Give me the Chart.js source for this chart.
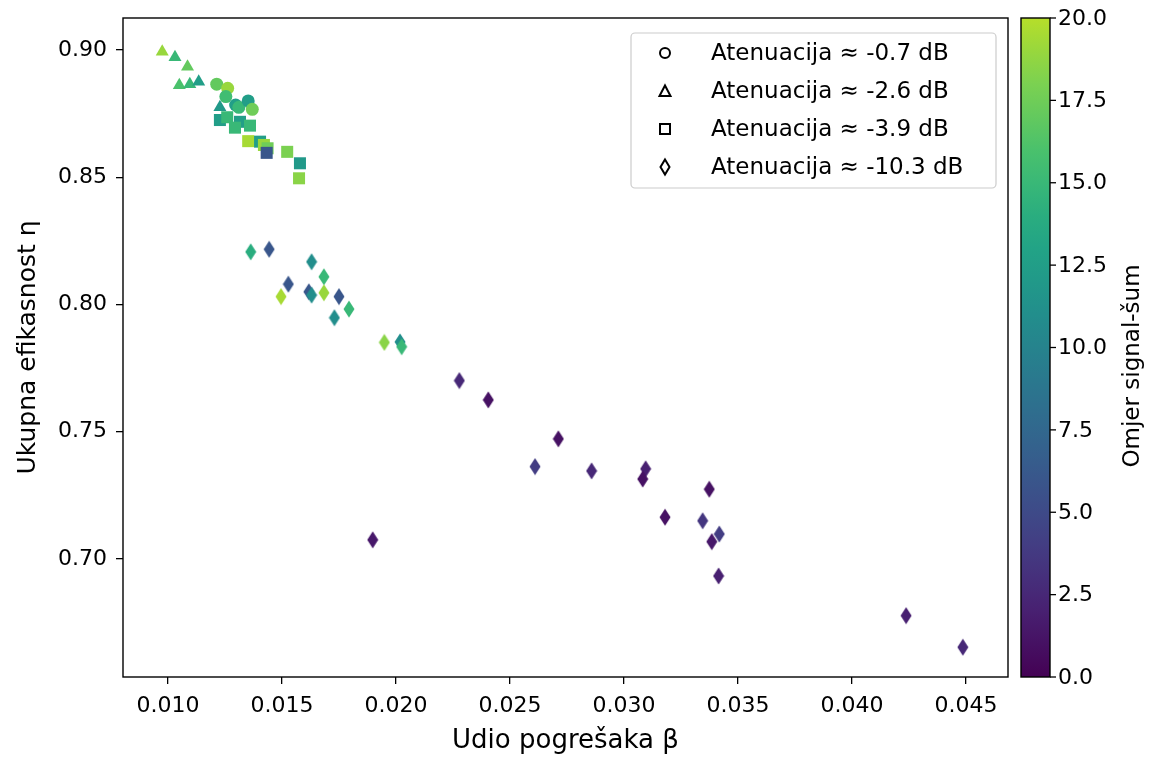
<!DOCTYPE html>
<html lang="hr">
<head>
<meta charset="UTF-8" />
<title>Ukupna efikasnost</title>
<script src="https://cdn.jsdelivr.net/npm/chart.js@4.4.0/dist/chart.umd.min.js"></script>
<style>
  html, body { margin: 0; padding: 0; background: #fff; }
</style>
</head>
<body>
<canvas id="chart" width="1153" height="757"></canvas>
<script>
// legend text
var attenuations = ['-0.7', '-2.6', '-3.9', '-10.3'];

// -0.7 dB (circles)
var circleX = [0.01214, 0.01262, 0.01254, 0.01297, 0.01311, 0.01352, 0.01370];
var circleY = [0.8866, 0.8850, 0.8817, 0.8784, 0.8775, 0.8800, 0.8767];
var circleSnr = [17, 19, 15.5, 12.5, 15, 12.5, 17.5];

// -2.6 dB (triangles)
var triX = [0.00975, 0.01031, 0.01086, 0.01050, 0.01096, 0.01135, 0.01228];
var triY = [0.8993, 0.8972, 0.8934, 0.8862, 0.8866, 0.8875, 0.8775];
var triSnr = [19, 15, 17, 16, 15, 12.5, 12];

// -3.9 dB (squares)
var sqX = [0.01228, 0.01260, 0.01316, 0.01294, 0.01360, 0.01352, 0.01404, 0.01421, 0.01437, 0.01433, 0.01523, 0.01579, 0.01575];
var sqY = [0.8725, 0.8736, 0.8718, 0.8695, 0.8703, 0.8642, 0.8640, 0.8627, 0.8614, 0.8596, 0.8600, 0.8555, 0.8496];
var sqSnr = [12.5, 15, 12.5, 15, 15, 19.5, 12.5, 19, 17.5, 6, 18, 12, 18.5];

// -10.3 dB (diamonds)
var diaX = [0.01363, 0.01444, 0.01630, 0.01684, 0.01528, 0.01496, 0.01618, 0.01630, 0.01684, 0.01750,
            0.01794, 0.01730, 0.01949, 0.02018, 0.02025, 0.02278, 0.02405, 0.02712, 0.02610, 0.02858,
            0.03095, 0.03082, 0.03374, 0.03180, 0.03345, 0.03418, 0.03385, 0.03415, 0.01898, 0.04237, 0.04486];
var diaY = [0.8207, 0.8217, 0.8168, 0.8109, 0.8080, 0.8031, 0.8050, 0.8037, 0.8046, 0.8031,
            0.7982, 0.7948, 0.7851, 0.7853, 0.7834, 0.7701, 0.7625, 0.7472, 0.7363, 0.7346,
            0.7354, 0.7314, 0.7274, 0.7164, 0.7150, 0.7098, 0.7068, 0.6933, 0.7075, 0.6777, 0.6653];
var diaSnr = [14, 6, 11, 15, 6, 19.5, 6, 11, 19, 6,
              15, 11, 18.5, 11, 15, 2.5, 1, 1, 4, 2.5,
              2, 1, 1, 1, 3.5, 4, 1.5, 2, 1.5, 2, 2.5];

var xTicksStep = 0.005;
var yTicksStep = 0.05;
var cbTicks = [0, 2.5, 5, 7.5, 10, 12.5, 15, 17.5, 20];
var cbMax = 20;

var VIRIDIS = ['#440154', '#482475', '#414487', '#355f8d', '#2a788e', '#21918c',
               '#22a884', '#44bf70', '#7ad151', '#bddf26', '#fde725'];

function hexRgb(h) {
  return [parseInt(h.substr(1, 2), 16), parseInt(h.substr(3, 2), 16), parseInt(h.substr(5, 2), 16)];
}

function viridis(t) {
  t = Math.max(0, Math.min(1, t)) * (VIRIDIS.length - 1);
  var i = Math.min(Math.floor(t), VIRIDIS.length - 2);
  var f = t - i;
  var a = hexRgb(VIRIDIS[i]), b = hexRgb(VIRIDIS[i + 1]);
  var c = a.map(function (v, k) { return Math.round(v + (b[k] - v) * f); });
  return 'rgb(' + c.join(',') + ')';
}

// colour bar tops out at a yellow-green, not full yellow
function snrColor(v) {
  return viridis(v / cbMax * 0.89);
}

var glyphs = {};
function thinDiamond(color) {
  if (glyphs[color]) return glyphs[color];
  var c = document.createElement('canvas');
  c.width = 12;
  c.height = 18;
  var g = c.getContext('2d');
  g.fillStyle = color;
  g.beginPath();
  g.moveTo(6, 0.5);
  g.lineTo(11.5, 9);
  g.lineTo(6, 17.5);
  g.lineTo(0.5, 9);
  g.closePath();
  g.fill();
  glyphs[color] = c;
  return c;
}

function pts(xs, ys) {
  return xs.map(function (x, i) { return { x: x, y: ys[i] }; });
}

var FONT = 'DejaVu Sans';

var framePlugin = {
  id: 'frame',
  afterDatasetsDraw: function (chart) {
    var a = chart.chartArea, ctx = chart.ctx;
    ctx.save();
    ctx.strokeStyle = '#000';
    ctx.lineWidth = 1.4;
    ctx.strokeRect(a.left, a.top, a.right - a.left, a.bottom - a.top);
    ctx.restore();
  }
};

var legendPlugin = {
  id: 'boxLegend',
  afterDraw: function (chart) {
    var a = chart.chartArea, ctx = chart.ctx;
    var w = 365, h = 155;
    var x0 = a.right - 12 - w, y0 = a.top + 15;
    ctx.save();
    ctx.beginPath();
    ctx.roundRect(x0, y0, w, h, 4);
    ctx.fillStyle = 'rgba(255,255,255,0.8)';
    ctx.fill();
    ctx.strokeStyle = '#cccccc';
    ctx.lineWidth = 1.2;
    ctx.stroke();
    ctx.font = '23px "' + FONT + '"';
    ctx.textBaseline = 'middle';
    ctx.fillStyle = '#000';
    ctx.strokeStyle = '#000';
    ctx.lineWidth = 2;
    var mx = x0 + 34;
    attenuations.forEach(function (att, i) {
      var my = y0 + 20 + i * 38;
      ctx.beginPath();
      if (i === 0) {
        ctx.arc(mx, my, 5, 0, Math.PI * 2);
      } else if (i === 1) {
        ctx.moveTo(mx, my - 5.5);
        ctx.lineTo(mx + 5.5, my + 5);
        ctx.lineTo(mx - 5.5, my + 5);
        ctx.closePath();
      } else if (i === 2) {
        ctx.rect(mx - 5, my - 5, 10, 10);
      } else {
        ctx.moveTo(mx, my - 7.5);
        ctx.lineTo(mx + 4.5, my);
        ctx.lineTo(mx, my + 7.5);
        ctx.lineTo(mx - 4.5, my);
        ctx.closePath();
      }
      ctx.stroke();
      ctx.fillText('Atenuacija \u2248 ' + att + ' dB', x0 + 80, my + 1);
    });
    ctx.restore();
  }
};

var colorbarPlugin = {
  id: 'colorbar',
  afterDraw: function (chart) {
    var a = chart.chartArea, ctx = chart.ctx;
    var left = a.right + 13, width = 29;
    var top = a.top, bottom = a.bottom;
    ctx.save();
    var grad = ctx.createLinearGradient(0, bottom, 0, top);
    for (var i = 0; i <= 20; i++) {
      grad.addColorStop(i / 20, snrColor(i / 20 * cbMax));
    }
    ctx.fillStyle = grad;
    ctx.fillRect(left, top, width, bottom - top);
    ctx.strokeStyle = '#000';
    ctx.lineWidth = 1.4;
    ctx.strokeRect(left, top, width, bottom - top);
    ctx.font = '22px "' + FONT + '"';
    ctx.fillStyle = '#000';
    ctx.textBaseline = 'middle';
    ctx.textAlign = 'left';
    ctx.lineWidth = 1.3;
    cbTicks.forEach(function (v) {
      var y = bottom - v / cbMax * (bottom - top);
      ctx.beginPath();
      ctx.moveTo(left + width, y);
      ctx.lineTo(left + width + 6, y);
      ctx.stroke();
      ctx.fillText(v.toFixed(1), left + width + 8, y + 1);
    });
    ctx.font = '23px "' + FONT + '"';
    ctx.translate(1133, 366);
    ctx.rotate(-Math.PI / 2);
    ctx.textAlign = 'center';
    ctx.fillText('Omjer signal-\u0161um', 0, 0);
    ctx.restore();
  }
};

var diaColors = diaSnr.map(snrColor);

new Chart(document.getElementById('chart'), {
  type: 'scatter',
  data: {
    datasets: [
      {
        label: 'Atenuacija \u2248 ' + attenuations[0] + ' dB',
        data: pts(circleX, circleY),
        pointStyle: 'circle',
        pointRadius: 6.5,
        pointBackgroundColor: circleSnr.map(snrColor),
        pointBorderWidth: 0,
        order: 4
      },
      {
        label: 'Atenuacija \u2248 ' + attenuations[1] + ' dB',
        data: pts(triX, triY),
        pointStyle: 'triangle',
        pointRadius: 7.5,
        pointBackgroundColor: triSnr.map(snrColor),
        pointBorderWidth: 0,
        order: 3
      },
      {
        label: 'Atenuacija \u2248 ' + attenuations[2] + ' dB',
        data: pts(sqX, sqY),
        pointStyle: 'rect',
        pointRadius: 8.5,
        pointBackgroundColor: sqSnr.map(snrColor),
        pointBorderWidth: 0,
        order: 2
      },
      {
        label: 'Atenuacija \u2248 ' + attenuations[3] + ' dB',
        data: pts(diaX, diaY),
        pointStyle: diaColors.map(thinDiamond),
        pointRadius: 8,
        pointBackgroundColor: diaColors,
        pointBorderWidth: 0,
        order: 1
      }
    ]
  },
  options: {
    responsive: false,
    animation: false,
    devicePixelRatio: 1,
    events: [],
    layout: { padding: { top: 18, right: 145, bottom: 0, left: 0 } },
    plugins: {
      legend: { display: false },
      tooltip: { enabled: false }
    },
    scales: {
      x: {
        type: 'linear',
        min: 0.00803,
        max: 0.04684,
        afterFit: function (s) { s.height = 80; s.paddingLeft = 0; s.paddingRight = 0; },
        border: { display: false },
        grid: { drawOnChartArea: false, drawTicks: true, tickLength: 7, color: '#000', lineWidth: 1.3 },
        ticks: {
          stepSize: xTicksStep,
          includeBounds: false,
          color: '#000',
          padding: 9,
          font: { family: FONT, size: 22 },
          callback: function (v) { return v.toFixed(3); }
        },
        title: {
          display: true,
          text: 'Udio pogre\u0161aka \u03b2',
          color: '#000',
          font: { family: FONT, size: 26 },
          padding: { top: 0, bottom: 0 }
        }
      },
      y: {
        type: 'linear',
        min: 0.6536,
        max: 0.9126,
        afterFit: function (s) { s.width = 123; s.paddingTop = 0; s.paddingBottom = 0; },
        border: { display: false },
        grid: { drawOnChartArea: false, drawTicks: true, tickLength: 7, color: '#000', lineWidth: 1.3 },
        ticks: {
          stepSize: yTicksStep,
          includeBounds: false,
          color: '#000',
          padding: 9,
          font: { family: FONT, size: 22 },
          callback: function (v) { return v.toFixed(2); }
        },
        title: {
          display: true,
          text: 'Ukupna efikasnost \u03b7',
          color: '#000',
          font: { family: FONT, size: 25 },
          padding: { top: 13, bottom: 0 }
        }
      }
    }
  },
  plugins: [framePlugin, legendPlugin, colorbarPlugin]
});
</script>
</body>
</html>
